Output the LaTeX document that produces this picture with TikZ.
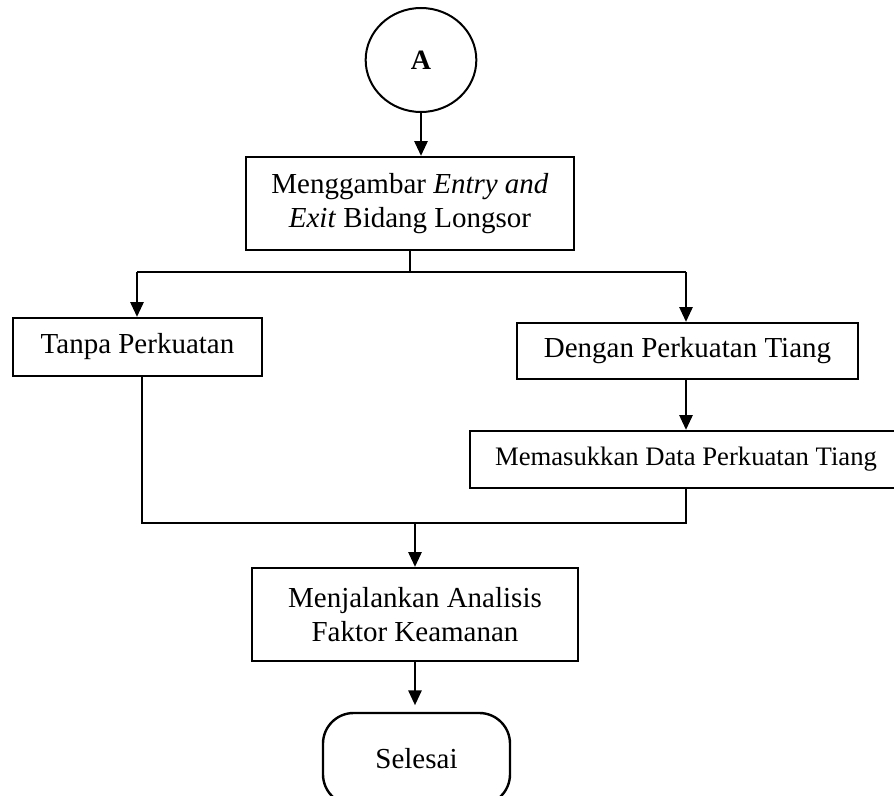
\documentclass[tikz,border=0pt]{standalone}
\usepackage{fontspec}
\setmainfont{Liberation Serif}
\usetikzlibrary{shapes.geometric,arrows.meta}

\tikzset{
  x=0.75pt, y=-0.75pt,
  procbox/.style={draw, line width=1.8pt, align=center, inner sep=0pt,
    font=\fontsize{21.75pt}{25.5pt}\selectfont},
  conn/.style={line width=1.1pt},
  flow/.style={conn, -{Triangle[length=11pt,width=10pt]}},
}

\begin{document}
\begin{tikzpicture}
  \useasboundingbox (0,0) rectangle (894,796);

  % start connector and process steps
  \node[ellipse, draw, line width=1.5pt, minimum width=83pt, minimum height=78pt,
        inner sep=0pt, font=\fontsize{21pt}{23pt}\selectfont\bfseries] (A) at (421,60) {A};
  \node[procbox, minimum width=246pt, minimum height=69.75pt] (M) at (410,203.5)
    {Menggambar \textit{Entry and}\\\textit{Exit} Bidang Longsor};
  \node[procbox, minimum width=186.75pt, minimum height=43.5pt] (T) at (137.5,347)
    {Tanpa Perkuatan};
  \node[procbox, minimum width=255.75pt, minimum height=42pt] (D) at (687.5,351)
    {Dengan Perkuatan Tiang};
  \node[procbox, minimum width=324pt, minimum height=42.75pt,
        font=\fontsize{20pt}{24pt}\selectfont] (MD) at (686,459.5)
    {Memasukkan Data Perkuatan Tiang};
  \node[procbox, minimum width=244.5pt, minimum height=69.75pt] (J) at (415,614.5)
    {Menjalankan Analisis\\Faktor Keamanan};
  \node[procbox, rounded corners=23pt, minimum width=140.25pt, minimum height=69pt]
    (S) at (416.5,759) {Selesai};

  % junction points of the branch and merge lines
  \coordinate (sl) at (137,272);
  \coordinate (sr) at (686,272);
  \coordinate (jl) at (142,523);
  \coordinate (jr) at (686,523);

  % connectors
  \draw[flow] (A.south) -- (A.south |- M.north);
  \draw[conn] (M.south) -- (M.south |- sl);
  \draw[conn] (sl) -- (sr);
  \draw[flow] (sl) -- (sl |- T.north);
  \draw[flow] (sr) -- (sr |- D.north);
  \draw[flow] (sr |- D.south) -- (sr |- MD.north);
  \draw[conn] (jl |- T.south) -- (jl) -- (jr) -- (jr |- MD.south);
  \draw[flow] (J.north |- jl) -- (J.north);
  \draw[flow, shorten >=5pt] (J.south) -- (J.south |- S.north);
\end{tikzpicture}
\end{document}
